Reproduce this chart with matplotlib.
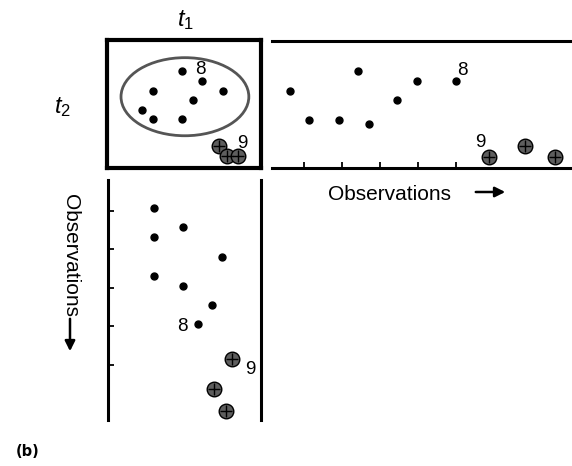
import matplotlib
matplotlib.use("Agg")
import matplotlib.pyplot as plt
from matplotlib.patches import Ellipse

plt.rcParams['font.family'] = ['Liberation Sans', 'DejaVu Sans']
plt.rcParams['mathtext.fontset'] = 'custom'
plt.rcParams['mathtext.it'] = 'Liberation Sans:italic'
plt.rcParams['mathtext.rm'] = 'Liberation Sans'

# ---- data ----
# scatter panel (t1 vs t2)
sc_t1 = [4.9, 6.2, 3.0, 7.5, 5.6, 2.3, 3.0, 4.9]
sc_t2 = [7.6, 6.8, 6.0, 6.0, 5.3, 4.5, 3.8, 3.8]
sc_out_t1 = [7.3, 7.8, 8.5]
sc_out_t2 = [1.7, 0.9, 0.9]

# top-right panel: t2 over observations
top_obs = [0.63, 1.13, 1.92, 2.42, 2.71, 3.45, 3.97, 5.0]
top_t2 = [6.0, 3.75, 3.75, 7.6, 3.45, 5.3, 6.8, 6.8]
top_out_obs = [5.87, 6.82, 7.61]
top_out_t2 = [0.8, 1.7, 0.85]

# bottom-left panel: t1 over observations (downwards)
left_obs = [0.91, 1.42, 1.68, 2.19, 2.69, 2.94, 3.44, 3.94]
left_t1 = [3.0, 4.9, 3.0, 7.45, 3.0, 4.9, 6.8, 5.9]
left_out_obs = [4.85, 5.62, 6.19]
left_out_t1 = [8.1, 6.9, 7.7]

obs_ticks = [1, 2, 3, 4, 5]

W, H = 572, 466
fig = plt.figure(figsize=(W / 100, H / 100), dpi=100)


def fpos(x0, y0, x1, y1):
    return [x0 / W, 1 - y1 / H, (x1 - x0) / W, (y1 - y0) / H]


def dots(ax, x, y):
    ax.plot(x, y, 'o', color='black', ms=5, clip_on=False, zorder=5)


def crossed(ax, x, y):
    ax.plot(x, y, 'o', mfc='#5e5e5e', mec='black', mew=1.0, ms=10.5,
            clip_on=False, zorder=6)
    ax.plot(x, y, '+', color='black', mew=1.0, ms=9, clip_on=False, zorder=7)


# scatter panel
ax = fig.add_axes(fpos(107, 40, 261, 168))
ax.set_xlim(0, 10)
ax.set_ylim(0, 10)
for s in ax.spines.values():
    s.set_linewidth(3.0)
ax.set_xticks([])
ax.set_yticks([])
ax.add_patch(Ellipse((5.06, 5.57), 8.3, 6.1, fill=False, ec='#555555', lw=2.0))
dots(ax, sc_t1, sc_t2)
crossed(ax, sc_out_t1, sc_out_t2)
ax.text(6.04, 7.66, '8', fontsize=13.5, ha='center', va='center', zorder=8)
ax.text(8.81, 1.88, '9', fontsize=13.5, ha='center', va='center', zorder=8)

# top-right panel
ax2 = fig.add_axes(fpos(272, 40.5, 572, 167.5))
ax2.set_xlim(0.16, 8.05)
ax2.set_ylim(0, 10)
for k in ['left', 'right']:
    ax2.spines[k].set_visible(False)
for k in ['top', 'bottom']:
    ax2.spines[k].set_linewidth(2.2)
ax2.set_xticks(obs_ticks)
ax2.set_xticklabels([])
ax2.tick_params(axis='x', direction='in', length=4, width=1.3)
ax2.set_yticks([])
dots(ax2, top_obs, top_t2)
crossed(ax2, top_out_obs, top_out_t2)
ax2.text(5.18, 7.6, '8', fontsize=13.5, ha='center', va='center')
ax2.text(5.65, 1.95, '9', fontsize=13.5, ha='center', va='center')

# bottom-left panel
ax3 = fig.add_axes(fpos(108, 180, 261, 420))
ax3.set_xlim(0, 10)
ax3.set_ylim(6.43, 0.195)
for k in ['top', 'bottom']:
    ax3.spines[k].set_visible(False)
for k in ['left', 'right']:
    ax3.spines[k].set_linewidth(2.2)
ax3.set_yticks(obs_ticks)
ax3.set_yticklabels([])
ax3.tick_params(axis='y', direction='in', length=4, width=1.3)
ax3.set_xticks([])
dots(ax3, left_t1, left_obs)
crossed(ax3, left_out_t1, left_out_obs)
ax3.text(4.89, 4.0, '8', fontsize=13.5, ha='center', va='center')
ax3.text(9.29, 5.13, '9', fontsize=13.5, ha='center', va='center')

# labels
fig.text(185 / W, 1 - 20 / H, r'$t_1$', fontsize=17, ha='center', va='center')
fig.text(62 / W, 1 - 107 / H, r'$t_2$', fontsize=17, ha='center', va='center')

fig.text(390 / W, 1 - 194 / H, 'Observations', fontsize=15, ha='center', va='center')
fig.patches.append(matplotlib.patches.FancyArrowPatch(
    (473 / W, 1 - 192 / H), (508 / W, 1 - 192 / H), transform=fig.transFigure,
    arrowstyle='-|>', mutation_scale=15, lw=1.8, color='black'))

fig.text(70 / W, 1 - 256 / H, 'Observations', fontsize=15, rotation=270,
         ha='center', va='center')
fig.patches.append(matplotlib.patches.FancyArrowPatch(
    (70 / W, 1 - 316 / H), (70 / W, 1 - 354 / H), transform=fig.transFigure,
    arrowstyle='-|>', mutation_scale=15, lw=1.8, color='black'))

fig.text(28 / W, 1 - 451 / H, '(b)', fontsize=10.5, fontweight='bold',
         family='DejaVu Sans', ha='center', va='center')

fig.savefig('out.png', dpi=100)
